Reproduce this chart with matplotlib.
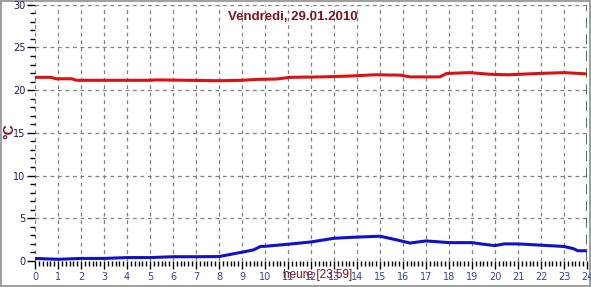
import matplotlib
matplotlib.use("Agg")
import matplotlib.pyplot as plt
from matplotlib.ticker import MultipleLocator

# heures de la journee et temperatures
hours_int = [0, 0.7, 0.9, 1.6, 1.8, 5, 5.3, 8, 9, 9.6, 10.5, 11.1, 12.5,
             13.7, 14.8, 15.9, 16.3, 17.6, 17.9, 18.9, 19.8, 20.6, 21.9, 23, 24]
temp_int = [21.5, 21.5, 21.33, 21.33, 21.15, 21.15, 21.2, 21.1, 21.15, 21.25,
            21.3, 21.5, 21.55, 21.65, 21.8, 21.75, 21.55, 21.55, 21.95, 22.05,
            21.85, 21.8, 21.95, 22.05, 21.9]

hours_ext = [0, 1, 2, 3, 4, 5, 6, 7, 8, 9, 9.5, 9.8, 10, 11, 12, 13, 14, 15,
             15.6, 16, 16.3, 17, 18, 19, 19.5, 20, 20.4, 21, 22, 23, 23.4, 23.6, 24]
temp_ext = [0.3, 0.2, 0.3, 0.3, 0.4, 0.4, 0.5, 0.5, 0.52, 1.03, 1.3, 1.7, 1.72,
            1.96, 2.23, 2.66, 2.8, 2.9, 2.55, 2.3, 2.1, 2.35, 2.15, 2.15, 1.96,
            1.8, 2.0, 2.0, 1.85, 1.7, 1.45, 1.2, 1.2]

x_labels = [str(h) for h in range(25)]
title = "Vendredi, 29.01.2010"

fig = plt.figure(figsize=(5.91, 2.87), dpi=100)
fig.patch.set_facecolor("white")
fig.patch.set_edgecolor("#a0a0a0")
fig.patch.set_linewidth(1.5)
ax = fig.add_axes([35 / 591, 1 - 261 / 287, 552 / 591, 256.3 / 287])

ax.plot(hours_int, temp_int, color="#dd1111", lw=2.2)
ax.plot(hours_ext, temp_ext, color="#1111cc", lw=2.2)

ax.set_xlim(0, 24)
ax.set_ylim(0, 30)
ax.set_xticks(range(25))
ax.set_xticklabels(x_labels)
ax.xaxis.set_minor_locator(MultipleLocator(1 / 6))
ax.yaxis.set_major_locator(MultipleLocator(5))
ax.yaxis.set_minor_locator(MultipleLocator(1))

for s in ax.spines.values():
    s.set_visible(False)

ax.tick_params(axis="both", which="major", length=6, width=1, color="black",
               labelsize=7, direction="out")
ax.tick_params(axis="both", which="minor", length=3.5, width=1, color="black")
ax.tick_params(axis="x", colors="black", labelcolor="#34449a", pad=2)
ax.tick_params(axis="y", labelcolor="#1a1f5c", pad=1)

ax.grid(True, which="major", color="#808080", lw=0.9, linestyle=(0, (3, 3)))
ax.axvline(24, color="#117711", lw=1.2, linestyle=(0, (6, 4)))

fig.text(293 / 591, 1 - 17 / 287, title, ha="center", va="center",
         fontsize=9.5, fontweight="bold", color="#7a1520", family="Liberation Sans")
fig.text(9 / 591, 1 - 131 / 287, "°C", rotation=90, ha="center", va="center",
         fontsize=10, fontweight="bold", color="#7a1520", family="Liberation Sans")
fig.text(318 / 591, 1 - 275 / 287, "heure [23:59]", ha="center", va="center",
         fontsize=8.5, color="#7a1520", family="Liberation Sans")

fig.savefig("out.png", dpi=100)
